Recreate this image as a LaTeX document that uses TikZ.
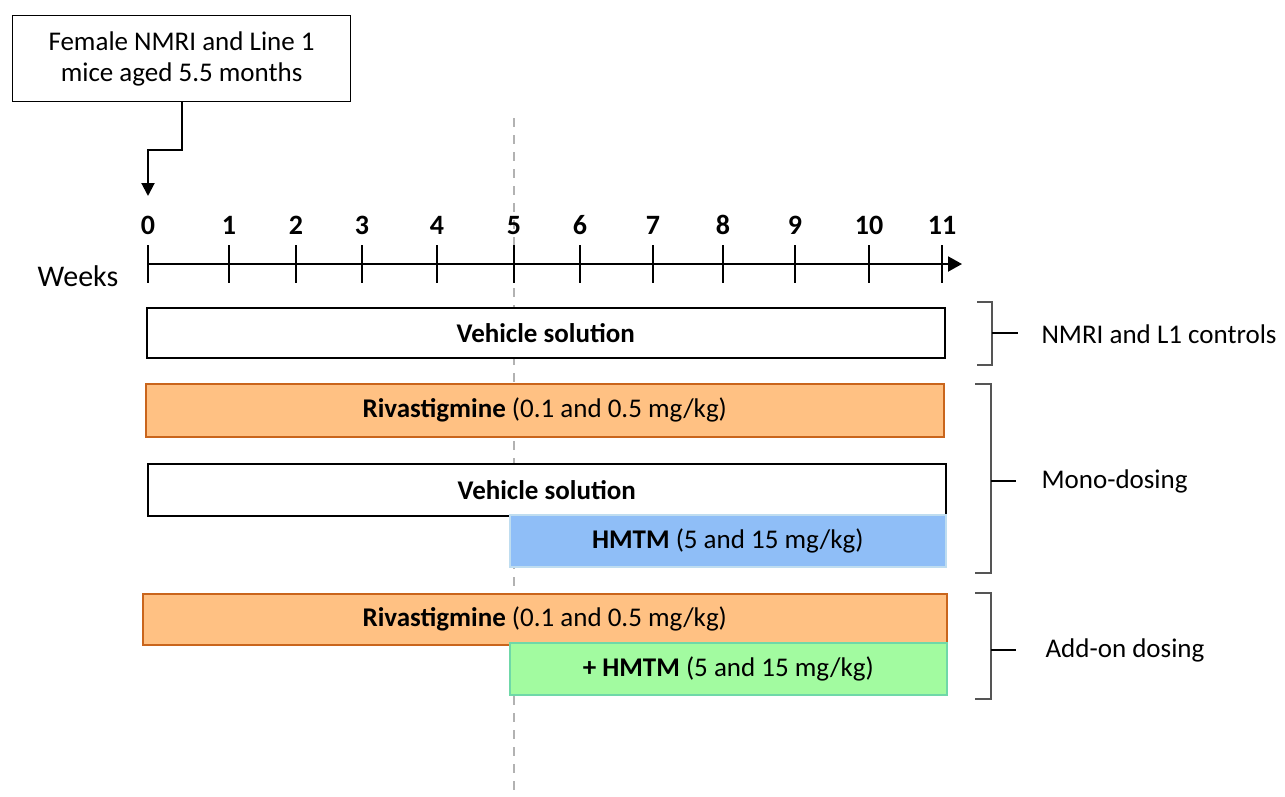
\documentclass[tikz,border=0pt]{standalone}
\usepackage{fontspec}
\setmainfont{Carlito}
\usetikzlibrary{arrows.meta}
\definecolor{orfill}{HTML}{FFC183}
\definecolor{ordraw}{HTML}{C9651C}
\definecolor{blfill}{HTML}{8FBEF7}
\definecolor{bldraw}{HTML}{BFDDF0}
\definecolor{grfill}{HTML}{A2FBA0}
\definecolor{grdraw}{HTML}{6FD8A8}
\definecolor{brk}{HTML}{555555}
\begin{document}
\begin{tikzpicture}[x=1pt,y=-1pt,
  every node/.style={font=\fontsize{27}{32}\selectfont},
  bar/.style={draw=black, line width=1.5pt, fill=white, anchor=north west, inner sep=0pt, align=center},
  orbar/.style={bar, draw=ordraw, fill=orfill},
  blbar/.style={bar, draw=bldraw, fill=blfill},
  grbar/.style={bar, draw=grdraw, fill=grfill},
  wk/.style={font=\fontsize{28}{32}\selectfont\bfseries, anchor=base},
  brack/.style={draw=brk, line width=1.3pt},
  bticks/.style={draw=black, line width=1.3pt},
  glabel/.style={anchor=west}]
\useasboundingbox (0,0) rectangle (1285,796);
% dashed line
\coordinate (dtop) at (514,118);
\coordinate (dbot) at (514,796);
\draw[draw=black!30, line width=2pt, dash pattern=on 9pt off 8pt] (dtop) -- (dbot);
% start box
\node[draw=black, line width=1.2pt, fill=white, minimum width=338pt, minimum height=86pt, align=center, inner sep=0pt, anchor=north west, font=\fontsize{27}{31}\selectfont] (start) at (12,15) {Female NMRI and Line 1\\mice aged 5.5 months};
\coordinate (bendL) at (148,150);
\coordinate (arrowend) at (148,196);
\draw[line width=2pt, -{Triangle[length=13pt,width=13pt]}] (start.south) |- (bendL) -- (arrowend);
% axis
\coordinate (ax0) at (147,264);
\coordinate (axend) at (962,264);
\draw[line width=2pt, -{Triangle[length=14pt,width=15pt]}] (ax0) -- (axend);
\foreach \n/\xx in {0/148,1/229,2/296,3/362,4/437,5/514,6/580,7/653,8/723,9/795,10/869,11/942}{
  \coordinate (t\n a) at (\xx,245);
  \coordinate (t\n b) at (\xx,283);
  \draw[line width=1.5pt] (t\n a) -- (t\n b);
  \node[wk] (w\n) at (\xx,234) {\n};
}
\node[anchor=base, font=\fontsize{30}{34}\selectfont] (weeks) at (78,286) {Weeks};
% bars
\node[bar, minimum width=798pt, minimum height=50pt] (veh1) at (146,307) {\textbf{Vehicle solution}};
\node[orbar, minimum width=798pt, minimum height=53pt] (riv1) at (145,383) {\textbf{Rivastigmine} (0.1 and 0.5 mg/kg)};
\node[bar, minimum width=798pt, minimum height=52pt] (veh2) at (147,463) {\textbf{Vehicle solution}};
\node[blbar, minimum width=436pt, minimum height=52pt] (hm1) at (509,514) {\textbf{HMTM} (5 and 15 mg/kg)};
\node[orbar, minimum width=804pt, minimum height=51pt] (riv2) at (142,593) {\textbf{Rivastigmine} (0.1 and 0.5 mg/kg)};
\node[grbar, minimum width=437pt, minimum height=52pt] (hm2) at (509,642) {\textbf{+ HMTM} (5 and 15 mg/kg)};
% brackets
\coordinate (b1t) at (977,302);
\coordinate (b1b) at (977,365);
\coordinate (b1mt) at (992,302);
\coordinate (b1mb) at (992,365);
\coordinate (b1m) at (992,333);
\coordinate (b1e) at (1018,333);
\draw[brack] (b1t) -- (b1mt) -- (b1mb) -- (b1b);
\draw[bticks] (b1m) -- (b1e);
\node[glabel] (g1) at (1038,334) {NMRI and L1 controls};
\coordinate (b2t) at (975,384);
\coordinate (b2b) at (975,573);
\coordinate (b2mt) at (991,384);
\coordinate (b2mb) at (991,573);
\coordinate (b2m) at (991,481);
\coordinate (b2e) at (1016,481);
\draw[brack] (b2t) -- (b2mt) -- (b2mb) -- (b2b);
\draw[bticks] (b2m) -- (b2e);
\node[glabel] (g2) at (1038,481) {Mono-dosing};
\coordinate (b3t) at (975,593);
\coordinate (b3b) at (975,699);
\coordinate (b3mt) at (991,593);
\coordinate (b3mb) at (991,699);
\coordinate (b3m) at (991,650);
\coordinate (b3e) at (1016,650);
\draw[brack] (b3t) -- (b3mt) -- (b3mb) -- (b3b);
\draw[bticks] (b3m) -- (b3e);
\node[glabel] (g3) at (1042,650) {Add-on dosing};
\end{tikzpicture}
\end{document}
